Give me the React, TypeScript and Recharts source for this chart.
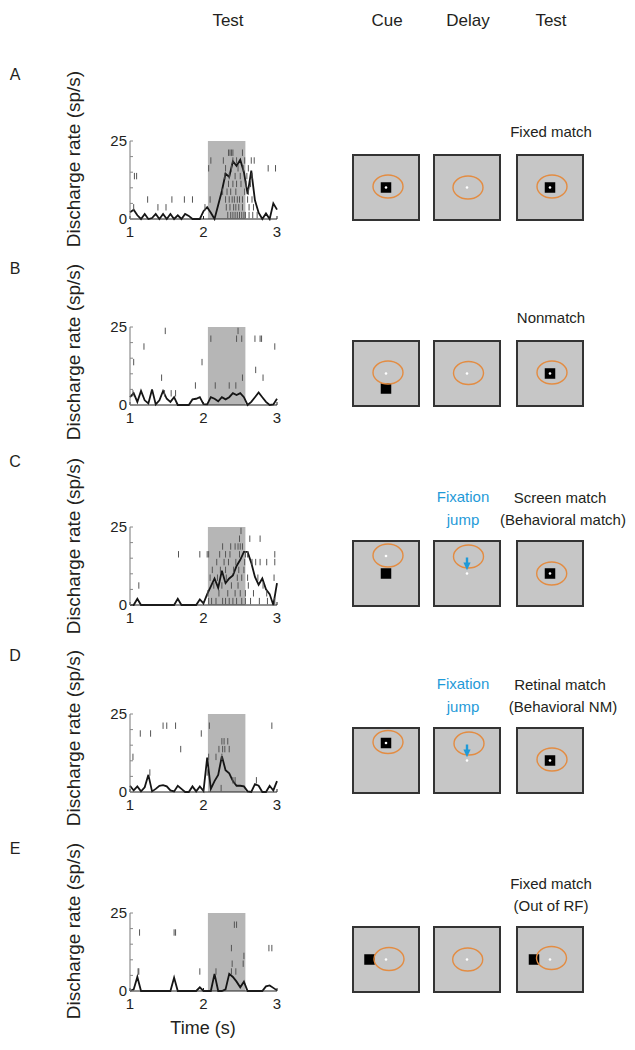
import React from 'react';
import { ComposedChart, Line, Scatter, XAxis, YAxis, ReferenceArea } from 'recharts';

const FONT = '"Liberation Sans", Arial, Helvetica, sans-serif';
const INK = '#231f20';
const BLUE = '#1f9ad8';

// ---------- data ----------
const TIMES = [
  1.0, 1.05, 1.1, 1.15, 1.2, 1.25, 1.3, 1.35, 1.4, 1.45, 1.5, 1.55, 1.6, 1.65, 1.7, 1.75, 1.8, 1.85, 1.9, 1.95,
  2.0, 2.05, 2.1, 2.15, 2.2, 2.25, 2.3, 2.35, 2.4, 2.45, 2.5, 2.55, 2.6, 2.65, 2.7, 2.75, 2.8, 2.85, 2.9, 2.95, 3.0,
];

const psthA = [2.2, 3.0, 1.2, 0, 1.6, 0, 0.3, 1.6, 0, 1.6, 0, 1.6, 0, 1.2, 0, 1.6, 1.0, 0, 0, 0, 2.5, 3.8, 2.0, 0, 4.5, 9, 14.5, 13.5, 18.5, 17, 19, 15, 8, 15.5, 6, 2, 0, 1.8, 0, 5, 3];
const psthB = [2.5, 3.8, 1.0, 4.5, 1.5, 0.5, 5.0, 0.2, 1.5, 4.5, 2.0, 1.0, 2.5, 0, 0, 0, 0, 1.8, 2.0, 2.5, 0.3, 0.2, 2.5, 2.0, 1.2, 2.5, 1.8, 2.5, 3.8, 3.2, 3.8, 2.5, 0, 1.0, 2.5, 4.0, 2.5, 1.0, 0, 0.2, 2.0];
const psthC = [0, 0, 2.0, 0, 0, 0, 0, 0, 0, 0, 0, 0, 0, 2.0, 0, 0, 0, 0, 0, 1.8, 0.5, 3.5, 6, 8.5, 5.5, 11, 7, 8.5, 9.5, 12.5, 14.5, 17, 17, 13.5, 9, 6.5, 8.5, 5, 3.5, 0, 7];
const psthD = [2, 0.5, 1.8, 0.2, 1.5, 5.5, 0.2, 1.0, 2.0, 2.2, 1.8, 0.5, 0.2, 2.0, 1.0, 0, 0, 1.8, 0.2, 1.8, 0.3, 11, 1, 3.5, 5.5, 11.5, 7, 6, 3.5, 2, 2, 1.8, 0.2, 0, 2.5, 2, 0, 0, 2, 0.5, 3.5];
const psthE = [0, 0.5, 4.5, 0, 0, 0, 0, 0, 0, 0, 0, 0, 4.3, 0, 0, 0, 0, 0, 0, 1.2, 0, 0, 0, 5.5, 0, 0, 0.5, 5.5, 4.5, 3, 1.2, 3.0, 0, 0, 0, 0, 0, 1.5, 1.8, 1.0, 0.2];

// spike times per trial, trial 0 = bottom row
const rasterA = [
  [2.33, 2.37, 2.4, 2.43, 2.46, 2.49, 2.52, 2.55, 2.57, 2.62, 2.67, 2.73],
  [1.05, 1.38, 1.49, 2.02, 2.31, 2.36, 2.41, 2.44, 2.48, 2.53, 2.62, 2.68],
  [1.24, 1.57, 1.74, 1.85, 2.09, 2.3, 2.35, 2.39, 2.42, 2.46, 2.49, 2.53, 2.6, 2.66],
  [2.26, 2.32, 2.37, 2.44, 2.56, 2.61],
  [2.34, 2.4, 2.45, 2.51, 2.58, 2.64],
  [1.06, 1.09, 2.29, 2.35, 2.43, 2.5, 2.59, 2.66],
  [2.07, 2.3, 2.38, 2.47, 2.54, 2.61, 2.88, 2.98],
  [2.1, 2.27, 2.4, 2.45, 2.56, 2.65, 2.69],
  [2.34, 2.36, 2.38, 2.4, 2.53],
  [],
];
const rasterB = [
  [],
  [1.04, 1.47, 1.56, 1.62],
  [1.89, 2.16, 2.35, 2.44],
  [1.43, 2.53, 2.81],
  [2.71],
  [1.05, 1.98],
  [],
  [1.19, 2.97],
  [2.1, 2.45, 2.52, 2.7, 2.77, 2.79],
  [1.48, 2.47],
];
const rasterC = [
  [2.07, 2.11, 2.17, 2.26, 2.3, 2.35, 2.4, 2.45, 2.52, 2.57, 2.64, 2.76, 2.87, 2.97],
  [2.06, 2.21, 2.33, 2.43, 2.5, 2.57, 2.68, 2.86],
  [1.12, 2.14, 2.25, 2.38, 2.47, 2.61, 2.81],
  [2.09, 2.19, 2.31, 2.46, 2.52, 2.6, 2.74, 2.96],
  [2.12, 2.23, 2.3, 2.41, 2.48, 2.55],
  [2.18, 2.28, 2.34, 2.44, 2.56, 2.66, 2.71, 2.77, 2.86, 2.97],
  [1.66, 1.95, 2.05, 2.07, 2.22, 2.3, 2.36, 2.49, 2.57, 2.6, 2.97],
  [2.26, 2.37, 2.43, 2.47, 2.5, 2.53],
  [2.49, 2.63, 2.77],
  [2.51],
];
const rasterD = [
  [2.24],
  [2.4, 2.43, 2.72],
  [1.27, 2.05],
  [],
  [1.04, 2.07, 2.17, 2.25],
  [1.69, 2.21, 2.26, 2.29, 2.35],
  [2.25, 2.28, 2.33],
  [1.14, 1.28, 1.97],
  [1.45, 1.5, 1.62, 2.08, 2.93],
  [],
];
const rasterE = [
  [],
  [],
  [1.11, 1.12, 1.95, 2.17, 2.38, 2.44],
  [2.39, 2.54],
  [2.55],
  [2.38, 2.89, 2.93],
  [],
  [1.13, 1.6, 1.62],
  [2.42, 2.45],
  [],
];

const TEST_WINDOW = [2.06, 2.57];
const X_TICKS = [1, 2, 3];
const Y_TICKS = [0, 5, 10, 15, 20, 25];
const Y_LABELED = [0, 25];
const TRIAL_STEP = 2.5;

const LETTERS = ['A', 'B', 'C', 'D', 'E'];
const HEADERS = ['Cue', 'Delay', 'Test'];
const CONDITION_LINES = [
  ['Fixed match'],
  ['Nonmatch'],
  ['Screen match', '(Behavioral match)'],
  ['Retinal match', '(Behavioral NM)'],
  ['Fixed match', '(Out of RF)'],
];
const JUMP = [false, false, true, true, false];

// schematic screens: fixation / stimulus / RF offsets (relative to screen centre)
type ScreenSpec = { fix: number[]; stim: number[] | null; rf: number[]; arrow?: boolean };
const SCREENS: ScreenSpec[][] = [
  [
    { fix: [0, 0], stim: [0, 0], rf: [2, -1] },
    { fix: [0, 0], stim: null, rf: [1, 0] },
    { fix: [0, 0], stim: [0, 0], rf: [2, -1] },
  ],
  [
    { fix: [0, 0], stim: [0, 15], rf: [2, -1] },
    { fix: [0, 0], stim: null, rf: [1.5, -0.5] },
    { fix: [0, 0], stim: [0, 0], rf: [2, -1] },
  ],
  [
    { fix: [0, -17.5], stim: [0, 0], rf: [2, -18] },
    { fix: [0, 0], stim: null, rf: [1.5, -17], arrow: true },
    { fix: [0, 0], stim: [0, 0], rf: [1.7, 0] },
  ],
  [
    { fix: [0, -17.5], stim: [0, -17.5], rf: [2, -18.5] },
    { fix: [0, 0], stim: null, rf: [2, -17], arrow: true },
    { fix: [0, 0], stim: [0, 0], rf: [2, -1] },
  ],
  [
    { fix: [0, 0], stim: [-16.5, 0], rf: [3, -0.5] },
    { fix: [0, 0], stim: null, rf: [0.7, 0] },
    { fix: [0, 0], stim: [-16, 0], rf: [1.5, -1.5] },
  ],
];

const PSTHS = [psthA, psthB, psthC, psthD, psthE];
const RASTERS = [rasterA, rasterB, rasterC, rasterD, rasterE];

// ---------- layout ----------
const PLOT_TOPS = [141, 327, 527, 714, 913];
const LETTER_Y = [74, 268, 461, 655, 848];
const YLABEL_Y = [159, 352, 546, 738, 931];
const SCREEN_X = [353, 434, 517];
const SCREEN_W = 66;
const SCREEN_H = 65;
const PLOT_H = 78;

const RasterTick = (props: any) => {
  const { cx, cy } = props;
  if (cx == null || cy == null) return <g />;
  return <line x1={cx} x2={cx} y1={cy - 3.2} y2={cy + 3.2} stroke="#555" strokeWidth={1} />;
};

function Psth({ values, raster, top }: { values: number[]; raster: number[][]; top: number }) {
  const data = TIMES.map((t, i) => ({ t, v: values[i] }));
  const spikes = raster.flatMap((row, i) => row.map((t) => ({ t, v: (i + 0.5) * TRIAL_STEP })));
  return (
    <div style={{ position: 'absolute', left: 0, top: top - 10 }}>
      <ComposedChart width={300} height={112} data={data} margin={{ top: 10, right: 23, bottom: 0, left: 0 }}>
        <ReferenceArea x1={TEST_WINDOW[0]} x2={TEST_WINDOW[1]} y1={0} y2={25} fill="#b6b6b6" fillOpacity={1} stroke="none" />
        <XAxis
          type="number"
          dataKey="t"
          domain={[1, 3]}
          ticks={X_TICKS}
          interval={0}
          height={24}
          tickSize={-3}
          tickMargin={10}
          axisLine={{ stroke: '#222', strokeWidth: 1.2 }}
          tickLine={{ stroke: '#222' }}
          tick={{ fontSize: 15, fill: INK, fontFamily: FONT }}
        />
        <YAxis
          type="number"
          dataKey="v"
          domain={[0, 25]}
          ticks={Y_TICKS}
          interval={0}
          width={130}
          tickSize={-3}
          tickMargin={6}
          tickFormatter={(v: number) => (Y_LABELED.includes(v) ? String(v) : '')}
          axisLine={{ stroke: '#777', strokeWidth: 1 }}
          tickLine={{ stroke: '#888' }}
          tick={{ fontSize: 15, fill: INK, fontFamily: FONT }}
        />
        <Scatter data={spikes} dataKey="v" shape={RasterTick} isAnimationActive={false} />
        <Line dataKey="v" type="linear" stroke="#151515" strokeWidth={1.8} dot={false} isAnimationActive={false} />
      </ComposedChart>
    </div>
  );
}

function Screen({ x, y, spec }: { x: number; y: number; spec: ScreenSpec }) {
  const cx = x + SCREEN_W / 2;
  const cy = y + SCREEN_H / 2;
  const s = 10.5;
  return (
    <g>
      <rect x={x} y={y} width={SCREEN_W} height={SCREEN_H} fill="#c6c6c6" stroke="#333" strokeWidth={2} />
      {spec.stim && (
        <rect x={cx + spec.stim[0] - s / 2} y={cy + spec.stim[1] - s / 2} width={s} height={s} fill="#000" />
      )}
      <ellipse cx={cx + spec.rf[0]} cy={cy + spec.rf[1]} rx={15} ry={11.5} fill="none" stroke="#e38c42" strokeWidth={1.4} />
      <circle cx={cx + spec.fix[0]} cy={cy + spec.fix[1]} r={1.3} fill="#fff" />
      {spec.arrow && (
        <g>
          <line x1={cx} x2={cx} y1={cy - 16} y2={cy - 10} stroke={BLUE} strokeWidth={2.4} />
          <polygon points={`${cx - 3.6},${cy - 11} ${cx + 3.6},${cy - 11} ${cx},${cy - 3.3}`} fill={BLUE} />
        </g>
      )}
    </g>
  );
}

export default function App() {
  return (
    <div style={{ position: 'absolute', left: 0, top: 0, width: 635, height: 1050, background: '#fff', fontFamily: FONT }}>
      <svg width={635} height={1050} style={{ position: 'absolute', left: 0, top: 0 }}>
        <g fontFamily={FONT} fill={INK}>
          <text x={228} y={20} fontSize={17} textAnchor="middle" dominantBaseline="central">Test</text>
          {HEADERS.map((h, i) => (
            <text key={h + i} x={SCREEN_X[i] + SCREEN_W / 2 + 1} y={20} fontSize={17} textAnchor="middle" dominantBaseline="central">
              {h}
            </text>
          ))}
          {LETTERS.map((L, i) => (
            <text key={L} x={15} y={LETTER_Y[i]} fontSize={16} textAnchor="middle" dominantBaseline="central">{L}</text>
          ))}
          {YLABEL_Y.map((cy, i) => (
            <text
              key={'yl' + i}
              x={73}
              y={cy}
              fontSize={19}
              textAnchor="middle"
              dominantBaseline="central"
              transform={`rotate(-90, 73, ${cy})`}
            >
              Discharge rate (sp/s)
            </text>
          ))}
          <text x={203} y={1028} fontSize={18} textAnchor="middle" dominantBaseline="central">Time (s)</text>
          {CONDITION_LINES.map((lines, i) => {
            const top = PLOT_TOPS[i];
            const ys = lines.length === 1 ? [top - 10] : [top - 30, top - 8];
            const cxs = lines.length === 1 ? [551] : i === 4 ? [551, 551] : [560, 563];
            return lines.map((ln, j) => (
              <text key={'c' + i + j} x={cxs[j]} y={ys[j]} fontSize={15} textAnchor="middle" dominantBaseline="central">
                {ln}
              </text>
            ));
          })}
          {JUMP.map((j, i) =>
            j ? (
              <g key={'j' + i} fill={BLUE}>
                <text x={463} y={PLOT_TOPS[i] - 31} fontSize={15} textAnchor="middle" dominantBaseline="central">Fixation</text>
                <text x={463} y={PLOT_TOPS[i] - 8} fontSize={15} textAnchor="middle" dominantBaseline="central">jump</text>
              </g>
            ) : null
          )}
        </g>
        {SCREENS.map((row, i) =>
          row.map((spec, k) => (
            <Screen key={'s' + i + k} x={SCREEN_X[k]} y={PLOT_TOPS[i] + PLOT_H + 1 - SCREEN_H} spec={spec} />
          ))
        )}
      </svg>
      {PSTHS.map((p, i) => (
        <Psth key={'p' + i} values={p} raster={RASTERS[i]} top={PLOT_TOPS[i]} />
      ))}
    </div>
  );
}
